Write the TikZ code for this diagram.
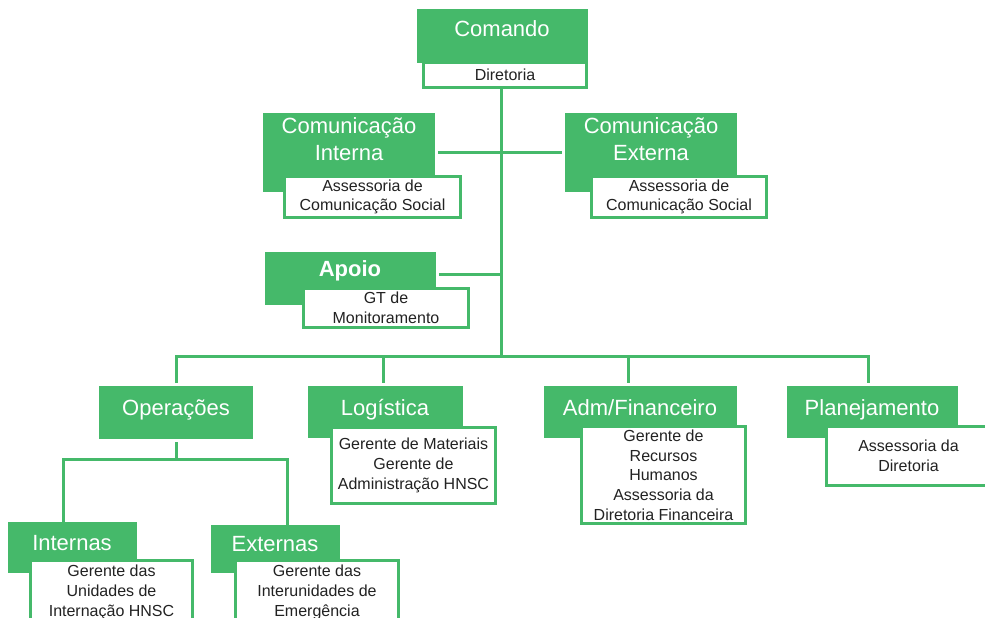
\documentclass[tikz,border=0pt]{standalone}
\usepackage{fontspec}
\setmainfont{Liberation Sans}
\definecolor{G}{RGB}{69,185,106}
\definecolor{T}{RGB}{34,34,34}
\tikzset{
  gbox/.style={fill=G, draw=none, anchor=north west, inner sep=0pt, outer sep=0pt},
  wbox/.style={fill=white, draw=G, line width=2.6pt, anchor=north west, inner sep=0pt, outer sep=0pt,
               align=center, text=T, font=\fontsize{16}{19.7}\selectfont},
  gtext/.style={text=white, anchor=base, inner sep=0pt, font=\fontsize{22}{26.5}\selectfont},
  conn/.style={draw=G, line width=3pt},
}
\newcommand\GB[5]{\node[gbox, minimum width={#4-#2}, minimum height={#5-#3}] (#1) at (#2,#3) {};}
\newcommand\WB[6]{\node[wbox, minimum width={#4-#2-3}, minimum height={#5-#3-3}] (#1) at ({#2+1.5},{#3+1.5}) {#6};}
\begin{document}
\begin{tikzpicture}[x=1pt,y=-1pt]
\useasboundingbox (0,0) rectangle (985,618);
\clip (0,0) rectangle (985,618);
% connector anchor points
\coordinate (tk) at (501,356);
\coordinate (apj) at (501,274);
\coordinate (dOp) at (176,356);
\coordinate (dLg) at (383,356);
\coordinate (dAd) at (628,356);
\coordinate (dPl) at (868,356);
\coordinate (opL) at (63,459);
\coordinate (opR) at (287,459);
% boxes
\GB{cmd}{417}{9}{588}{63}
\WB{dir}{422}{61}{588}{89}{Diretoria}
\GB{ci}{263}{113}{435}{192}
\WB{ciw}{283}{175}{462}{219}{Assessoria de\\Comunicação Social}
\GB{ce}{565}{113}{737}{192}
\WB{cew}{590}{175}{768}{219}{Assessoria de\\Comunicação Social}
\GB{ap}{265}{252}{436}{305}
\WB{apw}{302}{287}{470}{329}{GT de\\Monitoramento}
\GB{op}{99}{386}{253}{439}
\GB{lg}{308}{386}{463}{438}
\WB{lgw}{330}{426}{497}{505}{Gerente de Materiais\\Gerente de\\Administração HNSC}
\GB{ad}{544}{386}{737}{438}
\WB{adw}{580}{425}{747}{525}{Gerente de\\Recursos\\Humanos\\Assessoria da\\Diretoria Financeira}
\GB{pl}{787}{386}{958}{438}
\WB{plw}{825}{425}{992}{487}{Assessoria da\\Diretoria}
\GB{in}{8}{522}{137}{573}
\WB{inw}{29}{559}{194}{626}{Gerente das\\Unidades de\\Internação HNSC}
\GB{ex}{211}{525}{340}{573}
\WB{exw}{234}{559}{400}{626}{Gerente das\\Interunidades de\\Emergência}
% green texts
\node[gtext] (tcmd) at (502,37) {Comando};
\node[gtext] (tci1) at (349,133) {Comunicação};
\node[gtext] (tci2) at (349,160) {Interna};
\node[gtext] (tce1) at (651,133) {Comunicação};
\node[gtext] (tce2) at (651,160) {Externa};
\node[gtext, font=\fontsize{22}{26.5}\selectfont\bfseries] (tap) at (350,276) {Apoio};
\node[gtext] (top) at (176,415) {Operações};
\node[gtext] (tlg) at (385,415) {Logística};
\node[gtext] (tad) at (640,415) {Adm/Financeiro};
\node[gtext] (tpl) at (872,415) {Planejamento};
\node[gtext] (tin) at (72,550) {Internas};
\node[gtext] (tex) at (275,551) {Externas};
% connector lines
\draw[conn] (tk |- dir.south) -- (tk);
\coordinate (ciE) at ([xshift=3pt]ci.east);
\coordinate (ceW) at ([xshift=-3pt]ce.west);
\draw[conn] (ciE) -- (ceW);
\coordinate (apE) at ([xshift=3pt]ap.east);
\draw[conn] (apE |- apj) -- (apj);
\coordinate (opN) at ([yshift=3pt]op.north);
\draw[conn] (dOp |- opN) -- (dOp) -- (dPl) -- (dPl |- opN);
\draw[conn] (dLg) -- (dLg |- opN);
\draw[conn] (dAd) -- (dAd |- opN);
\coordinate (opS) at ([yshift=-3pt]op.south);
\draw[conn] (opS) -- (opS |- opL);
\draw[conn] (opL |- in.north) -- (opL) -- (opR) -- (opR |- ex.north);
\end{tikzpicture}
\end{document}
